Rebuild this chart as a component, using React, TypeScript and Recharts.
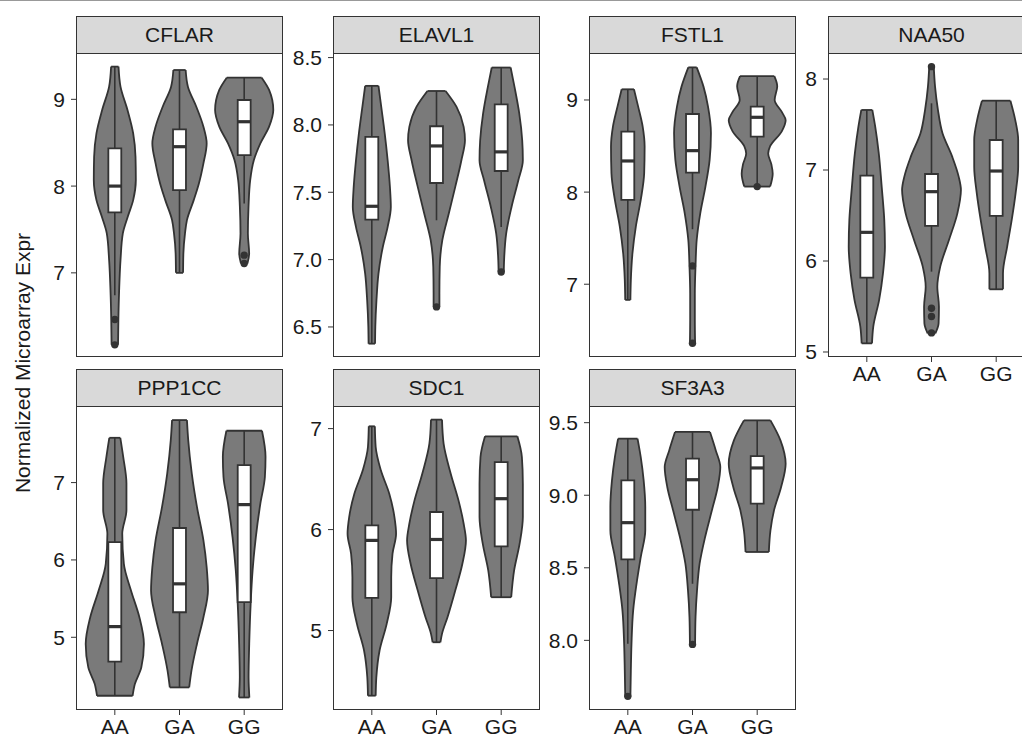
import React from "react";
import {
  Area,
  ComposedChart,
  ReferenceArea,
  ReferenceDot,
  ReferenceLine,
  XAxis,
  YAxis,
} from "recharts";

type Pair = [number, number];

const GENOTYPES = ["AA", "GA", "GG"];

// violin outlines, top to bottom: [expression, half width in category units]
const CFLAR_AA: Pair[] = [[9.377, 0.057], [9.146, 0.088], [8.877, 0.196], [8.608, 0.284], [8.338, 0.32], [8.069, 0.325], [7.838, 0.284], [7.646, 0.2], [7.454, 0.124], [7.146, 0.088], [6.8, 0.067], [6.454, 0.055], [6.17, 0.05]];
const CFLAR_GA: Pair[] = [[9.338, 0.095], [9.146, 0.13], [8.915, 0.26], [8.685, 0.37], [8.492, 0.42], [8.262, 0.37], [8.03, 0.3], [7.838, 0.22], [7.608, 0.115], [7.454, 0.085], [7.223, 0.06], [7.0, 0.055]];
const CFLAR_GG: Pair[] = [[9.25, 0.27], [9.108, 0.385], [8.877, 0.45], [8.685, 0.385], [8.492, 0.25], [8.3, 0.15], [8.069, 0.093], [7.762, 0.067], [7.454, 0.057], [7.223, 0.077], [7.108, 0.05]];

const ELAVL1_AA: Pair[] = [[8.29, 0.103], [8.134, 0.146], [7.936, 0.2], [7.738, 0.245], [7.54, 0.28], [7.391, 0.294], [7.243, 0.245], [7.094, 0.17], [6.896, 0.103], [6.698, 0.072], [6.5, 0.054], [6.376, 0.05]];
const ELAVL1_GA: Pair[] = [[8.252, 0.14], [8.134, 0.31], [7.985, 0.42], [7.886, 0.44], [7.738, 0.385], [7.54, 0.29], [7.342, 0.19], [7.144, 0.09], [6.946, 0.05], [6.748, 0.045], [6.649, 0.045]];
const ELAVL1_GG: Pair[] = [[8.426, 0.146], [8.282, 0.206], [8.084, 0.28], [7.886, 0.325], [7.738, 0.335], [7.589, 0.265], [7.391, 0.16], [7.193, 0.077], [6.995, 0.045], [6.908, 0.04]];

const FSTL1_AA: Pair[] = [[9.116, 0.095], [8.928, 0.16], [8.711, 0.23], [8.494, 0.26], [8.204, 0.253], [7.915, 0.2], [7.626, 0.124], [7.336, 0.072], [7.047, 0.047], [6.83, 0.04]];
const FSTL1_GA: Pair[] = [[9.354, 0.065], [9.145, 0.17], [8.928, 0.24], [8.638, 0.285], [8.349, 0.265], [8.06, 0.2], [7.77, 0.12], [7.48, 0.065], [7.2, 0.047], [6.9, 0.036], [6.613, 0.036], [6.36, 0.04]];
const FSTL1_GG: Pair[] = [[9.26, 0.265], [9.15, 0.31], [9.0, 0.27], [8.87, 0.38], [8.78, 0.44], [8.66, 0.38], [8.5, 0.2], [8.42, 0.17], [8.3, 0.22], [8.2, 0.24], [8.06, 0.2]];

const NAA50_AA: Pair[] = [[7.66, 0.085], [7.476, 0.13], [7.183, 0.185], [6.817, 0.23], [6.451, 0.27], [6.158, 0.28], [5.864, 0.25], [5.571, 0.19], [5.278, 0.1], [5.095, 0.08]];
const NAA50_GA: Pair[] = [[8.136, 0.035], [7.916, 0.055], [7.659, 0.1], [7.403, 0.17], [7.147, 0.32], [6.927, 0.42], [6.78, 0.455], [6.524, 0.4], [6.231, 0.27], [5.938, 0.135], [5.718, 0.09], [5.498, 0.115], [5.315, 0.11], [5.205, 0.06]];
const NAA50_GG: Pair[] = [[7.762, 0.22], [7.549, 0.295], [7.33, 0.34], [7.037, 0.34], [6.744, 0.3], [6.451, 0.24], [6.158, 0.17], [5.864, 0.105], [5.689, 0.105]];

const PPP1CC_AA: Pair[] = [[7.579, 0.085], [7.333, 0.13], [6.987, 0.18], [6.641, 0.18], [6.339, 0.115], [5.95, 0.14], [5.605, 0.25], [5.259, 0.38], [4.914, 0.45], [4.611, 0.41], [4.395, 0.31], [4.244, 0.275]];
const PPP1CC_GA: Pair[] = [[7.808, 0.115], [7.549, 0.135], [7.117, 0.19], [6.685, 0.27], [6.253, 0.37], [5.907, 0.42], [5.605, 0.44], [5.259, 0.37], [4.914, 0.27], [4.568, 0.185], [4.352, 0.15]];
const PPP1CC_GG: Pair[] = [[7.67, 0.275], [7.333, 0.33], [7.073, 0.32], [6.728, 0.25], [6.296, 0.18], [5.864, 0.13], [5.432, 0.1], [4.914, 0.078], [4.482, 0.068], [4.222, 0.08]];

const SDC1_AA: Pair[] = [[7.023, 0.047], [6.818, 0.06], [6.587, 0.14], [6.355, 0.27], [6.124, 0.35], [5.959, 0.375], [5.76, 0.32], [5.529, 0.3], [5.33, 0.3], [5.066, 0.23], [4.802, 0.12], [4.537, 0.07], [4.355, 0.06]];
const SDC1_GA: Pair[] = [[7.089, 0.085], [6.851, 0.11], [6.554, 0.22], [6.289, 0.34], [6.058, 0.42], [5.893, 0.455], [5.661, 0.4], [5.397, 0.29], [5.132, 0.17], [4.967, 0.085], [4.884, 0.06]];
const SDC1_GG: Pair[] = [[6.924, 0.25], [6.719, 0.32], [6.455, 0.335], [6.124, 0.335], [5.86, 0.285], [5.595, 0.2], [5.33, 0.155]];

const SF3A3_AA: Pair[] = [[9.39, 0.15], [9.263, 0.2], [9.103, 0.245], [8.919, 0.27], [8.758, 0.27], [8.574, 0.2], [8.39, 0.135], [8.207, 0.083], [7.977, 0.057], [7.793, 0.047], [7.614, 0.04]];
const SF3A3_GA: Pair[] = [[9.436, 0.27], [9.309, 0.36], [9.194, 0.43], [9.057, 0.39], [8.896, 0.3], [8.712, 0.195], [8.528, 0.11], [8.344, 0.07], [8.161, 0.047], [7.972, 0.04]];
const SF3A3_GG: Pair[] = [[9.516, 0.205], [9.378, 0.36], [9.217, 0.44], [9.057, 0.37], [8.896, 0.26], [8.758, 0.205], [8.609, 0.18]];

// boxplot stats per genotype: [lower whisker, q1, median, q3, upper whisker]
const CFLAR_BOX = [[6.742, 7.696, 8.0, 8.435, 9.377], [7.0, 7.954, 8.454, 8.654, 9.338], [7.8, 8.358, 8.742, 8.992, 9.25]];
const ELAVL1_BOX = [[6.376, 7.297, 7.396, 7.911, 8.29], [7.292, 7.569, 7.844, 7.99, 8.252], [7.243, 7.658, 7.8, 8.153, 8.426]];
const FSTL1_BOX = [[6.83, 7.915, 8.338, 8.656, 9.116], [7.597, 8.212, 8.45, 8.848, 9.354], [8.06, 8.602, 8.812, 8.928, 9.26]];
const NAA50_BOX = [[5.095, 5.817, 6.315, 6.938, 7.66], [5.883, 6.385, 6.762, 6.956, 7.733], [5.689, 6.495, 6.989, 7.33, 7.762]];
const PPP1CC_BOX = [[4.244, 4.685, 5.138, 6.231, 7.579], [4.352, 5.324, 5.691, 6.413, 7.808], [4.222, 5.454, 6.715, 7.225, 7.67]];
const SDC1_BOX = [[4.355, 5.324, 5.893, 6.041, 7.023], [4.884, 5.519, 5.902, 6.174, 7.089], [5.33, 5.833, 6.306, 6.669, 6.924]];
const SF3A3_BOX = [[7.977, 8.558, 8.811, 9.103, 9.39], [8.39, 8.9, 9.107, 9.252, 9.436], [8.609, 8.942, 9.188, 9.27, 9.516]];

// outliers per genotype
const CFLAR_OUT = [[6.462, 6.17], [], [7.204, 7.108]];
const ELAVL1_OUT = [[], [6.649], [6.908]];
const FSTL1_OUT = [[], [7.199, 6.36], [8.06]];
const NAA50_OUT = [[], [8.136, 5.48, 5.39, 5.21], []];
const PPP1CC_OUT: number[][] = [[], [], []];
const SDC1_OUT: number[][] = [[], [], []];
const SF3A3_OUT = [[7.614], [7.972], []];

// y ticks per panel
const CFLAR_TICKS = [7, 8, 9];
const ELAVL1_TICKS = [6.5, 7.0, 7.5, 8.0, 8.5];
const FSTL1_TICKS = [7, 8, 9];
const NAA50_TICKS = [5, 6, 7, 8];
const PPP1CC_TICKS = [5, 6, 7];
const SDC1_TICKS = [5, 6, 7];
const SF3A3_TICKS = [8.0, 8.5, 9.0, 9.5];

const FONT = "'Liberation Sans', Arial, Helvetica, sans-serif";
const INK = "#1a1a1a";
const LINE = "#333333";
const VIOLIN = "#7a7a7a";

const PANEL_W = 207;
const PANEL_H = 304;
const STRIP_H = 37;
const AXIS_W = 60;
const TOP_PAD = 12;
const X_AXIS_H = 40;
const BOX_HALF = 0.1;
const OUTLINE = 1.8;

const PANELS = [
  { gene: "CFLAR", violins: [CFLAR_AA, CFLAR_GA, CFLAR_GG], box: CFLAR_BOX, out: CFLAR_OUT, ticks: CFLAR_TICKS, domain: [6.03, 9.534], left: 76, top: 53, showX: false },
  { gene: "ELAVL1", violins: [ELAVL1_AA, ELAVL1_GA, ELAVL1_GG], box: ELAVL1_BOX, out: ELAVL1_OUT, ticks: ELAVL1_TICKS, domain: [6.277, 8.534], left: 333, top: 53, showX: false },
  { gene: "FSTL1", violins: [FSTL1_AA, FSTL1_GA, FSTL1_GG], box: FSTL1_BOX, out: FSTL1_OUT, ticks: FSTL1_TICKS, domain: [6.21, 9.51], left: 589, top: 53, showX: false },
  { gene: "NAA50", violins: [NAA50_AA, NAA50_GA, NAA50_GG], box: NAA50_BOX, out: NAA50_OUT, ticks: NAA50_TICKS, domain: [4.945, 8.286], left: 828, top: 53, showX: true },
  { gene: "PPP1CC", violins: [PPP1CC_AA, PPP1CC_GA, PPP1CC_GG], box: PPP1CC_BOX, out: PPP1CC_OUT, ticks: PPP1CC_TICKS, domain: [4.06, 7.99], left: 76, top: 406, showX: true },
  { gene: "SDC1", violins: [SDC1_AA, SDC1_GA, SDC1_GG], box: SDC1_BOX, out: SDC1_OUT, ticks: SDC1_TICKS, domain: [4.213, 7.224], left: 333, top: 406, showX: true },
  { gene: "SF3A3", violins: [SF3A3_AA, SF3A3_GA, SF3A3_GG], box: SF3A3_BOX, out: SF3A3_OUT, ticks: SF3A3_TICKS, domain: [7.52, 9.615], left: 589, top: 406, showX: true },
];

type PanelDef = (typeof PANELS)[number];

function Panel({ p }: { p: PanelDef }) {
  const digits = p.ticks.some((t) => !Number.isInteger(t)) ? 1 : 0;
  const chartH = TOP_PAD + PANEL_H + (p.showX ? X_AXIS_H : 5);
  const tickStyle = { fill: INK, fontSize: 21, fontFamily: FONT };

  return (
    <>
      <div
        style={{
          position: "absolute",
          left: p.left,
          top: p.top - STRIP_H,
          width: PANEL_W,
          height: STRIP_H + 1,
          boxSizing: "border-box",
          background: "#d9d9d9",
          border: `1px solid ${LINE}`,
          display: "flex",
          alignItems: "center",
          justifyContent: "center",
          fontFamily: FONT,
          fontSize: 21,
          color: INK,
        }}
      >
        {p.gene}
      </div>
      <div style={{ position: "absolute", left: p.left - AXIS_W, top: p.top - TOP_PAD }}>
        <ComposedChart
          layout="vertical"
          width={AXIS_W + PANEL_W + 5}
          height={chartH}
          margin={{ top: TOP_PAD, right: 5, left: 0, bottom: p.showX ? 0 : 5 }}
        >
          <XAxis
            type="number"
            domain={[0.4, 3.6]}
            allowDataOverflow
            ticks={[1, 2, 3]}
            interval={0}
            tickFormatter={(v: number) => GENOTYPES[v - 1]}
            hide={!p.showX}
            height={X_AXIS_H}
            axisLine={false}
            tickSize={5}
            tickMargin={4}
            tickLine={{ stroke: LINE }}
            tick={tickStyle}
          />
          <YAxis
            type="number"
            dataKey="y"
            reversed
            domain={p.domain}
            allowDataOverflow
            ticks={p.ticks}
            interval={0}
            tickFormatter={(v: number) => v.toFixed(digits)}
            width={AXIS_W}
            axisLine={false}
            tickSize={5}
            tickMargin={6}
            tickLine={{ stroke: LINE }}
            tick={tickStyle}
          />
          {p.violins.map((v, i) => (
            <Area
              key={`violin-${i}`}
              data={v.map(([y, w]) => ({ y, span: [i + 1 - w, i + 1 + w] }))}
              dataKey="span"
              type="monotone"
              fill={VIOLIN}
              fillOpacity={1}
              stroke={LINE}
              strokeWidth={OUTLINE}
              dot={false}
              activeDot={false}
              isAnimationActive={false}
              zIndex={100}
            />
          ))}
          {p.violins.map((v, i) =>
            [v[0], v[v.length - 1]].map(([y, w], k) => (
              <ReferenceLine
                key={`end-${i}-${k}`}
                segment={[{ x: i + 1 - w, y }, { x: i + 1 + w, y }]}
                stroke={LINE}
                strokeWidth={OUTLINE}
                zIndex={150}
              />
            ))
          )}
          {p.box.map(([lo, q1], i) => (
            <ReferenceLine
              key={`wl-${i}`}
              segment={[{ x: i + 1, y: lo }, { x: i + 1, y: q1 }]}
              stroke={LINE}
              strokeWidth={1.6}
              zIndex={300}
            />
          ))}
          {p.box.map(([, , , q3, hi], i) => (
            <ReferenceLine
              key={`wh-${i}`}
              segment={[{ x: i + 1, y: q3 }, { x: i + 1, y: hi }]}
              stroke={LINE}
              strokeWidth={1.6}
              zIndex={300}
            />
          ))}
          {p.box.map(([, q1, , q3], i) => (
            <ReferenceArea
              key={`box-${i}`}
              x1={i + 1 - BOX_HALF}
              x2={i + 1 + BOX_HALF}
              y1={q1}
              y2={q3}
              fill="#ffffff"
              fillOpacity={1}
              stroke={LINE}
              strokeWidth={OUTLINE}
              zIndex={400}
            />
          ))}
          {p.box.map(([, , med], i) => (
            <ReferenceLine
              key={`med-${i}`}
              segment={[{ x: i + 1 - BOX_HALF, y: med }, { x: i + 1 + BOX_HALF, y: med }]}
              stroke={LINE}
              strokeWidth={3.2}
              zIndex={500}
            />
          ))}
          {p.out.map((vals, i) =>
            vals.map((y, k) => (
              <ReferenceDot
                key={`out-${i}-${k}`}
                x={i + 1}
                y={y}
                r={3.7}
                fill={LINE}
                stroke="none"
                zIndex={600}
              />
            ))
          )}
        </ComposedChart>
      </div>
      <div
        style={{
          position: "absolute",
          left: p.left,
          top: p.top,
          width: PANEL_W,
          height: PANEL_H,
          boxSizing: "border-box",
          border: `1px solid ${LINE}`,
          pointerEvents: "none",
        }}
      />
    </>
  );
}

export default function App() {
  return (
    <div
      style={{
        position: "fixed",
        left: 0,
        top: 0,
        width: 1022,
        height: 739,
        overflow: "hidden",
        background: "#ffffff",
        fontFamily: FONT,
      }}
    >
      <div style={{ position: "absolute", left: 0, top: 0, width: 1022, height: 1, background: "#999999" }} />
      {PANELS.map((p) => (
        <Panel key={p.gene} p={p} />
      ))}
      <div
        style={{
          position: "absolute",
          left: 23,
          top: 363,
          transform: "translate(-50%, -50%) rotate(-90deg)",
          whiteSpace: "nowrap",
          fontSize: 21,
          color: INK,
        }}
      >
        Normalized Microarray Expr
      </div>
    </div>
  );
}
